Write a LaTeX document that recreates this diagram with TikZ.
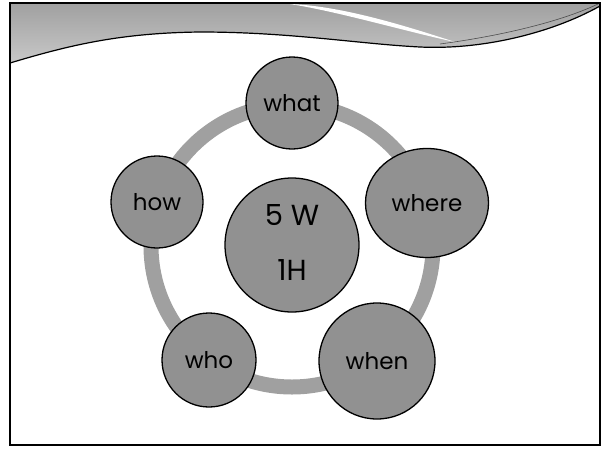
\documentclass[tikz,border=0pt]{standalone}
\usepackage{fontspec}
\setmainfont{Poppins}
\usetikzlibrary{shapes.geometric}
\definecolor{bubfill}{RGB}{145,145,145}
\definecolor{ringfill}{RGB}{160,160,160}
\definecolor{bandtop}{RGB}{160,160,160}
\definecolor{bandbot}{RGB}{200,200,200}
\tikzset{
  bub/.style={circle, draw=black, line width=1.3pt, fill=bubfill, inner sep=0pt,
    font=\fontsize{23}{27}\selectfont},
  bigtxt/.style={font=\fontsize{29}{33}\selectfont, inner sep=0pt},
  ringstyle/.style={draw=ringfill, line width=15pt},
}
\begin{document}
\begin{tikzpicture}[x=1pt,y=-1pt]
\useasboundingbox (0,0) rectangle (604,450);
\fill[white] (0,0) rectangle (604,450);
% wave band at the top
\shade[top color=bandtop, bottom color=bandbot]
  (10,3) -- (10,63) .. controls (70,45) and (120,33) .. (200,32)
  .. controls (290,32) and (360,44) .. (420,47)
  .. controls (480,50) and (550,34) .. (600,6) -- (600,3) -- cycle;
\fill[white] (290,4) .. controls (340,12) and (400,30) .. (455,42)
  .. controls (400,24) and (340,6) .. (290,4) -- cycle;
\draw[black!70, line width=0.6pt]
  (440,44) .. controls (500,36) and (560,22) .. (598,4);
\draw[black, line width=1.2pt]
  (10,63) .. controls (70,45) and (120,33) .. (200,32)
  .. controls (290,32) and (360,44) .. (420,47)
  .. controls (480,50) and (550,34) .. (600,6);
% frame
\draw[black, line width=2pt] (10,3) rectangle (600,445);
% ring
\coordinate (o) at (292,246);
\draw[ringstyle] (o) circle (141);
% bubbles
\node[bub, minimum size=134pt] (core) at (292,245) {};
\node[bigtxt] (core5) at (292,215) {5 W};
\node[bigtxt] (core1) at (292,270) {1H};
\node[bub, minimum size=92pt] (what) at (292,103) {what};
\node[bub, ellipse, minimum width=123pt, minimum height=109pt] (where) at (427,203) {where};
\node[bub, minimum size=116pt] (when) at (377,361) {when};
\node[bub, minimum size=94pt] (who) at (209,360) {who};
\node[bub, minimum size=92pt] (how) at (157,202) {how};
\end{tikzpicture}
\end{document}
